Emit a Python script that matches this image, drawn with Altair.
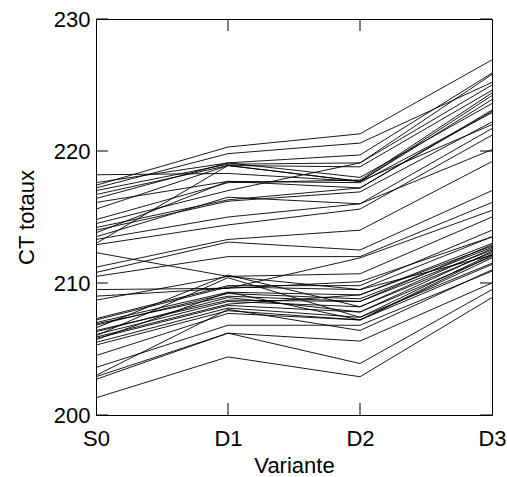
import altair as alt
import pandas as pd

variants = ["S0", "D1", "D2", "D3"]

s0 = [218.2, 217.6, 217.4, 217.2, 217.0, 216.7, 216.4, 216.1, 215.6, 214.8,
      214.5, 214.2, 214.0, 213.8, 213.3, 213.0, 212.9, 213.5,
      212.3, 211.2, 210.8, 210.5, 209.5, 208.7,
      207.2, 207.0, 206.9, 206.8, 206.6, 206.4, 206.3, 206.1, 206.0, 205.9,
      205.8, 205.7, 205.5, 205.3, 204.5, 203.6, 202.9, 202.7, 201.3, 203.0,
      209.0, 207.3]
d1 = [218.3, 219.1, 220.3, 219.8, 219.0, 218.9, 219.1, 217.7, 218.9, 217.6,
      217.0, 216.3, 216.2, 217.7, 215.0, 218.9, 214.4, 216.5,
      210.5, 213.3, 213.1, 212.0, 209.6, 210.5,
      209.7, 209.3, 209.0, 209.2, 210.6, 208.7, 208.9, 208.6, 210.4, 208.4,
      208.3, 209.3, 208.1, 207.9, 207.7, 206.8, 206.2, 206.2, 204.4, 208.0,
      209.6, 209.8]
d2 = [217.7, 219.7, 221.3, 220.6, 219.1, 218.8, 218.0, 217.6, 217.7, 217.8,
      219.1, 217.2, 216.9, 217.2, 216.0, 217.7, 215.6, 216.0,
      209.5, 214.0, 212.5, 212.0, 211.9, 210.7,
      209.5, 209.1, 208.6, 208.8, 208.2, 208.6, 207.8, 208.2, 207.4, 209.1,
      207.8, 207.2, 207.4, 207.2, 207.2, 206.8, 205.6, 203.9, 202.9, 206.4,
      210.1, 209.8]
d3 = [222.0, 225.9, 226.9, 225.2, 225.8, 224.6, 223.6, 222.9, 224.2, 224.4,
      225.0, 223.1, 222.2, 223.0, 221.7, 223.9, 221.2, 220.1,
      212.1, 219.2, 217.0, 216.1, 215.5, 215.0,
      213.5, 213.0, 212.9, 212.7, 212.6, 212.5, 212.4, 212.3, 212.2, 212.8,
      212.0, 212.1, 211.5, 211.9, 211.4, 210.9, 210.0, 209.5, 208.9, 211.0,
      213.5, 214.0]

y_ticks = [200, 210, 220, 230]
x_inner_ticks = ["D1", "D2"]

rows = []
for i in range(len(s0)):
    for v, arr in zip(variants, [s0, d1, d2, d3]):
        rows.append({"id": i, "Variante": v, "CT": arr[i]})
df = pd.DataFrame(rows)

W, H = 396, 396
FONT = "Liberation Sans"

xs = alt.X("Variante:N", sort=variants,
           scale=alt.Scale(type="point", padding=0, domain=variants),
           axis=alt.Axis(title="Variante", labelAngle=0, ticks=False, tickSize=0,
                         domain=False, grid=False, labelFontSize=22, titleFontSize=22,
                         labelFont=FONT, titleFont=FONT, labelColor="black",
                         titleColor="black", labelPadding=30, labelBaseline="alphabetic",
                         titleFontWeight="normal", titleBaseline="alphabetic",
                         titleY=57, labelFlush=False, labelOverlap=False))
ys = alt.Y("CT:Q", scale=alt.Scale(domain=[200, 230], nice=False, zero=False),
           axis=alt.Axis(title="CT totaux", values=y_ticks, ticks=False, tickSize=0,
                         domain=False, grid=False, labelFontSize=22, titleFontSize=22,
                         labelFont=FONT, titleFont=FONT, labelColor="black",
                         titleColor="black", labelPadding=6, titleFontWeight="normal",
                         titleAngle=-90, titleX=-70, titleY=198,
                         titleAlign="center", titleBaseline="middle", labelFlush=False))

lines = alt.Chart(df).mark_line(color="black", strokeWidth=0.9).encode(
    x=xs, y=ys, detail="id:N")

ydf = pd.DataFrame({"v": y_ticks})
xdf = pd.DataFrame({"Variante": x_inner_ticks})
yscale = alt.Scale(domain=[200, 230], nice=False, zero=False)
xscale = alt.Scale(type="point", padding=0, domain=variants)

lt = alt.Chart(ydf).mark_rule(color="black", strokeWidth=1).encode(
    y=alt.Y("v:Q", scale=yscale), x=alt.value(0), x2=alt.value(12))
rt = alt.Chart(ydf).mark_rule(color="black", strokeWidth=1).encode(
    y=alt.Y("v:Q", scale=yscale), x=alt.value(W - 12), x2=alt.value(W))
bt = alt.Chart(xdf).mark_rule(color="black", strokeWidth=1).encode(
    x=alt.X("Variante:N", scale=xscale), y=alt.value(H - 12), y2=alt.value(H))
tt = alt.Chart(xdf).mark_rule(color="black", strokeWidth=1).encode(
    x=alt.X("Variante:N", scale=xscale), y=alt.value(0), y2=alt.value(12))

chart = alt.layer(lines, lt, rt, bt, tt).properties(
    width=W, height=H,
    autosize=alt.AutoSizeParams(type="none"),
    padding={"left": 96, "top": 19, "right": 15, "bottom": 62},
    background="white",
).configure_view(stroke="black", strokeWidth=1)

chart.save("out.html", embed_options={"renderer": "svg", "actions": False})
